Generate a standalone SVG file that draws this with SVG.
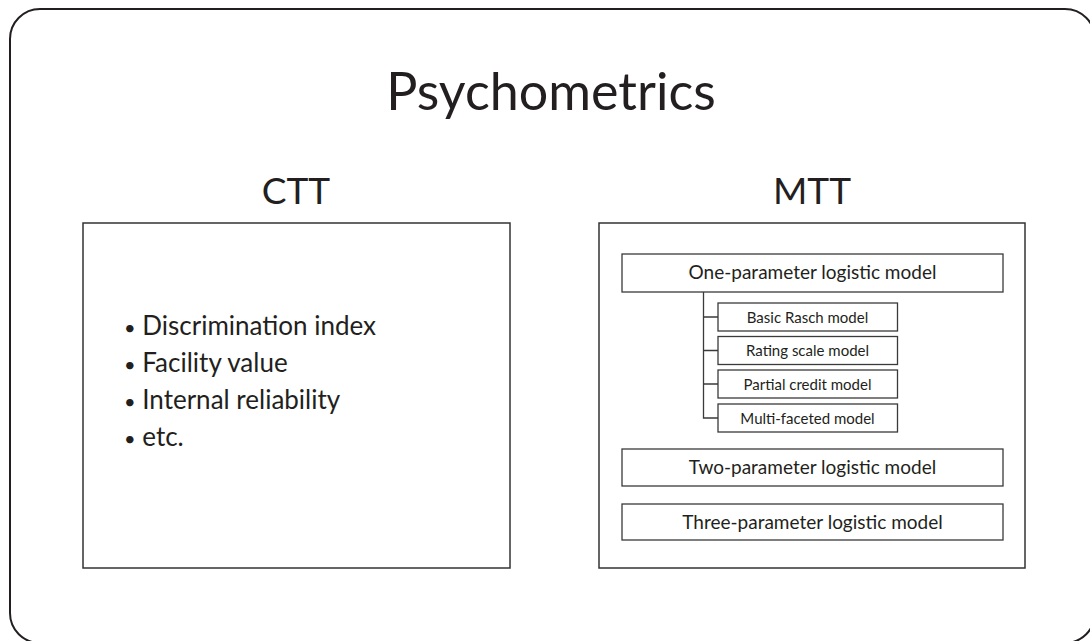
<svg xmlns="http://www.w3.org/2000/svg" width="1090" height="641" viewBox="0 0 1090 641">
<style>
text{font-family:Lato,"Open Sans","Noto Sans",sans-serif;fill:#231f20;}
.frame{fill:none;stroke:#231f20;stroke-width:2;}
.panel{fill:#fff;stroke:#333;stroke-width:1.5;}
.box{fill:#fff;stroke:#3a3a3a;stroke-width:1.3;}
.conn{fill:none;stroke:#3a3a3a;stroke-width:1.3;}
.t1{font-size:52px;text-anchor:middle;}
.t2{font-size:37px;text-anchor:middle;}
.bl{font-size:26px;}
.dot{font-size:20px;}
.m{font-size:19px;text-anchor:middle;}
.s{font-size:15px;text-anchor:middle;}
</style>
<rect class="frame" x="10" y="9" width="1085" height="634" rx="30" ry="30"/>
<g id="title"><text class="t1" x="551" y="110">Psychometrics</text></g>
<g id="ctt">
<text class="t2" x="296" y="204">CTT</text>
<rect class="panel" x="83" y="223" width="427" height="345"/>
<text class="bl" x="124" y="335"><tspan class="dot">•</tspan> Discrimination index</text>
<text class="bl" x="124" y="372"><tspan class="dot">•</tspan> Facility value</text>
<text class="bl" x="124" y="409"><tspan class="dot">•</tspan> Internal reliability</text>
<text class="bl" x="124" y="446"><tspan class="dot">•</tspan> etc.</text>
</g>
<g id="mtt">
<text class="t2" x="812" y="204">MTT</text>
<rect class="panel" x="599" y="223" width="426" height="345"/>
</g>
<g id="connectors">
<path class="conn" d="M703.5 292 V418 H718 M703.5 317 H718 M703.5 350.5 H718 M703.5 384 H718"/>
</g>
<g id="one-param"><rect class="box" x="622" y="254" width="381" height="38"/><text class="m" x="812.5" y="279">One-parameter logistic model</text></g>
<g id="basic-rasch"><rect class="box" x="718" y="303" width="179.5" height="28"/><text class="s" x="807.5" y="322.5">Basic Rasch model</text></g>
<g id="rating-scale"><rect class="box" x="718" y="336.5" width="179.5" height="28"/><text class="s" x="807.5" y="356">Rating scale model</text></g>
<g id="partial-credit"><rect class="box" x="718" y="370" width="179.5" height="28"/><text class="s" x="807.5" y="389.5">Partial credit model</text></g>
<g id="multi-faceted"><rect class="box" x="718" y="404" width="179.5" height="28"/><text class="s" x="807.5" y="423.5">Multi-faceted model</text></g>
<g id="two-param"><rect class="box" x="622" y="449" width="381" height="37"/><text class="m" x="812.5" y="474">Two-parameter logistic model</text></g>
<g id="three-param"><rect class="box" x="622" y="504" width="381" height="36"/><text class="m" x="812.5" y="528.5">Three-parameter logistic model</text></g>
</svg>
